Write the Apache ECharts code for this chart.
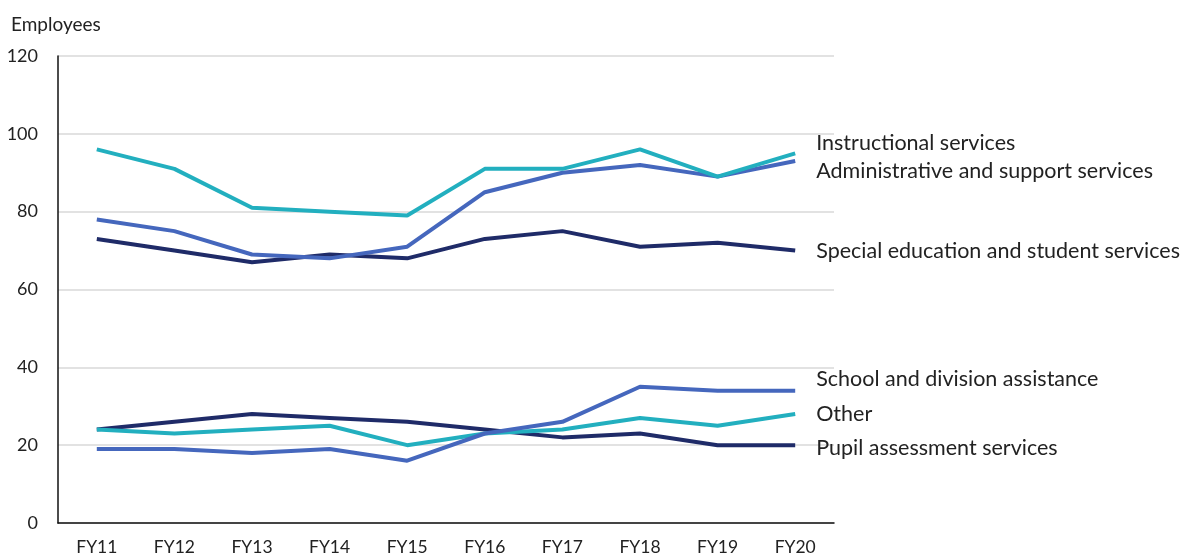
<!DOCTYPE html>
<html>
<head>
<meta charset="utf-8">
<script src="https://cdn.jsdelivr.net/npm/echarts@6/dist/echarts.min.js"></script>
<style>
  html, body { margin: 0; padding: 0; background: #fff; }
  #chart { width: 1190px; height: 556px; }
</style>
</head>
<body>
<div id="chart"></div>
<script>
const years = ["FY11", "FY12", "FY13", "FY14", "FY15", "FY16", "FY17", "FY18", "FY19", "FY20"];
const yTicks = [0, 20, 40, 60, 80, 100, 120];

const instructional = [96, 91, 81, 80, 79, 91, 91, 96, 89, 95];
const administrative = [78, 75, 69, 68, 71, 85, 90, 92, 89, 93];
const specialEd = [73, 70, 67, 69, 68, 73, 75, 71, 72, 70];
const schoolDivision = [19, 19, 18, 19, 16, 23, 26, 35, 34, 34];
const other = [24, 23, 24, 25, 20, 23, 24, 27, 25, 28];
const pupilAssessment = [24, 26, 28, 27, 26, 24, 22, 23, 20, 20];

const TEAL = "#22AFBF";
const BLUE = "#4567BD";
const NAVY = "#1F2B68";
const FONT = "Lato";

function makeLine(name, data, color, dy) {
  return {
    name: name,
    type: "line",
    data: data,
    showSymbol: false,
    symbol: "none",
    lineStyle: { color: color, width: 4 },
    itemStyle: { color: color },
    endLabel: {
      show: true,
      formatter: "{a}",
      distance: 21,
      offset: [0, dy],
      color: "#222",
      fontFamily: FONT,
      fontSize: 21.5
    },
    emphasis: { disabled: true }
  };
}

const chart = echarts.init(document.getElementById("chart"));
const option = {
  animation: false,
  backgroundColor: "#fff",
  title: {
    text: "Employees",
    left: 6,
    top: 10,
    textStyle: { color: "#222", fontFamily: FONT, fontSize: 19, fontWeight: "normal" }
  },
  grid: { left: 58, right: 356, top: 56, bottom: 33 },
  xAxis: {
    type: "category",
    data: years,
    boundaryGap: true,
    axisLine: { lineStyle: { color: "#111", width: 1.5 } },
    axisTick: { show: false },
    axisLabel: { color: "#222", fontFamily: FONT, fontSize: 17.5, margin: 15 }
  },
  yAxis: {
    type: "value",
    min: yTicks[0],
    max: yTicks[yTicks.length - 1],
    interval: 20,
    axisLine: { show: true, lineStyle: { color: "#111", width: 1.5 } },
    axisTick: { show: false },
    axisLabel: { color: "#222", fontFamily: FONT, fontSize: 18, margin: 20 },
    splitLine: { lineStyle: { color: "#D9D9D9", width: 1.5 } }
  },
  series: [
    makeLine("Pupil assessment services", pupilAssessment, NAVY, 3),
    makeLine("Other", other, TEAL, 0),
    makeLine("School and division assistance", schoolDivision, BLUE, -12),
    makeLine("Special education and student services", specialEd, NAVY, 0),
    makeLine("Administrative and support services", administrative, BLUE, 10),
    makeLine("Instructional services", instructional, TEAL, -10)
  ]
};
chart.setOption(option);
</script>
</body>
</html>
